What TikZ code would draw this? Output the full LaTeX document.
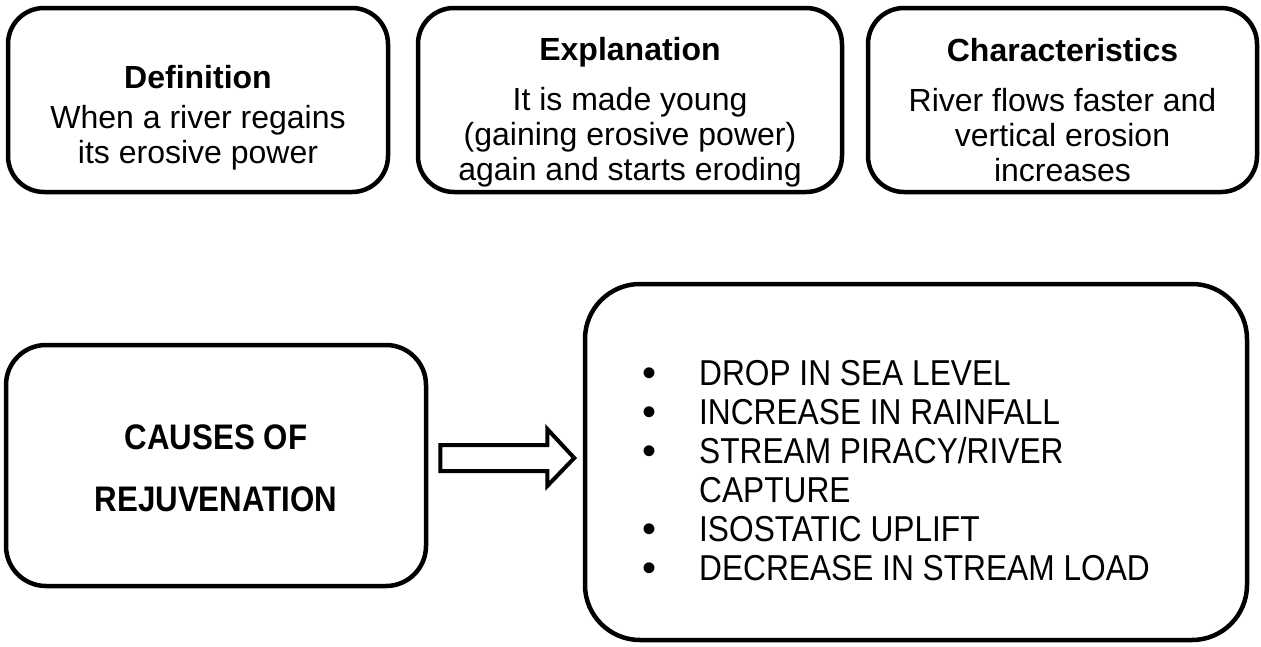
\documentclass[tikz,border=0pt]{standalone}
\usepackage{fontspec}
\setmainfont{Liberation Sans}
\newfontfamily\narrowfont{Liberation Sans}[FakeStretch=0.88]
\usetikzlibrary{positioning, calc}

\newcommand{\listdot}{{\rmfamily\fontsize{40}{39}\selectfont\raisebox{-1pt}{\textbullet}}}

\tikzset{
  roundbox/.style={draw, line width=4.5pt, rounded corners=36pt, align=center, inner sep=0pt},
  topbox/.style={roundbox, minimum height=184pt},
  boxtext/.style={align=center, inner sep=0pt, font=\fontsize{32}{35}\selectfont},
  blockarrow/.style={draw, line width=4pt, fill=white, line join=miter}
}

\begin{document}
\begin{tikzpicture}[x=1pt, y=-1pt]
  \useasboundingbox (0,0) rectangle (1261,646);

  % top row
  \node[topbox, minimum width=380pt] (def) at (198,100) {};
  \node[topbox, minimum width=424pt] (expl) at (630,100) {};
  \node[topbox, minimum width=389pt] (char) at (1062.5,100) {};
  \node[boxtext] (deftext) at ($(def.center)+(0,18)$)
    {\textbf{Definition}\\[5pt]When a river regains\\its erosive power};
  \node[boxtext] (expltext) at ($(expl.center)+(0,12.5)$)
    {\textbf{Explanation}\\[15pt]It is made young\\(gaining erosive power)\\again and starts eroding};
  \node[boxtext] (chartext) at ($(char.center)+(0,10)$)
    {\textbf{Characteristics}\\[15pt]River flows faster and\\vertical erosion\\increases};

  % causes
  \node[roundbox, minimum width=420pt, minimum height=241pt, rounded corners=40pt] (causes) at (216,465.5) {};
  \node[font=\narrowfont\fontsize{35.5}{35}\selectfont\bfseries, align=center, inner sep=0pt] (causestext)
    at ($(causes.center)+(0,3)$) {CAUSES OF\\[27pt]REJUVENATION};
  \node[roundbox, minimum width=662pt, minimum height=356pt, rounded corners=55pt] (list) at (916,462) {};
  \node[font=\narrowfont\fontsize{36}{39}\selectfont, inner sep=0pt] (items) at (896,475)
    {\begin{tabular}{@{}l@{\hspace{43pt}}l@{}}
      \listdot & DROP IN SEA LEVEL\\
      \listdot & INCREASE IN RAINFALL\\
      \listdot & STREAM PIRACY/RIVER\\
               & CAPTURE\\
      \listdot & ISOSTATIC UPLIFT\\
      \listdot & DECREASE IN STREAM LOAD
    \end{tabular}};

  % arrow
  \coordinate (tail) at ($(causes.east)+(12,-7.5)$);
  \draw[blockarrow] (tail) ++(0,-13) -- ++(107,0) -- ++(0,-16) -- ++(27,29)
    -- ++(-27,28) -- ++(0,-15) -- ++(-107,0) -- cycle;
\end{tikzpicture}
\end{document}
